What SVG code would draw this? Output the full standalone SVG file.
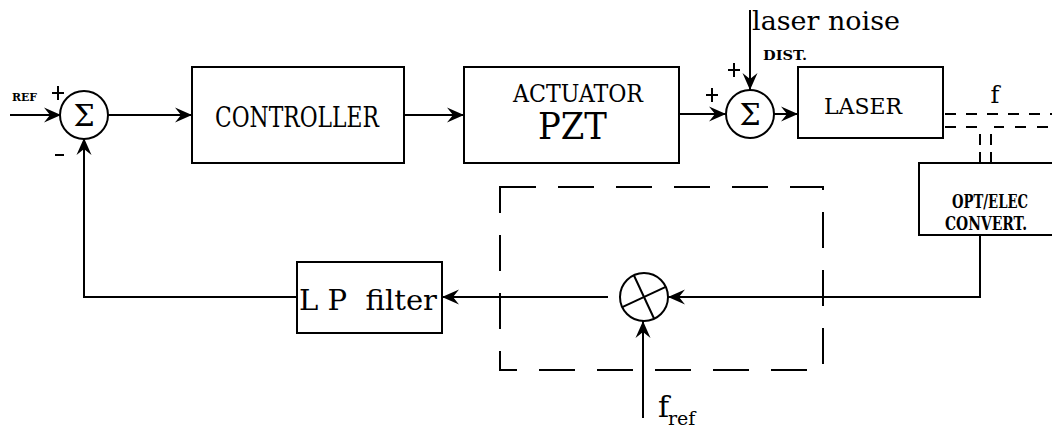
<svg xmlns="http://www.w3.org/2000/svg" width="1052" height="428" viewBox="0 0 1052 428">
<style>
.l{stroke:#000;stroke-width:2;fill:none}
.b{stroke:#000;stroke-width:2;fill:#fff}
.d{stroke:#000;stroke-width:2;fill:none;stroke-dasharray:36 22}
.t{font-family:'DejaVu Serif','Liberation Serif',serif;fill:#000}
.bt{font-family:'DejaVu Serif','Liberation Serif',serif;font-weight:bold;fill:#000}
.a{marker-end:url(#arr)}
</style>
<defs>
<marker id="arr" markerUnits="userSpaceOnUse" viewBox="-18 -8 20 16" refX="0" refY="0" markerWidth="20" markerHeight="16" orient="auto">
<path d="M0,0 L-17,-7.5 L-11,0 L-17,7.5 Z" fill="#000"/>
</marker>
</defs>
<rect width="1052" height="428" fill="#fff"/>

<g id="connectors">
<line class="l a" x1="10" y1="115" x2="61" y2="115"/>
<line class="l a" x1="108" y1="115" x2="192" y2="115"/>
<line class="l a" x1="404" y1="115" x2="464" y2="115"/>
<line class="l a" x1="679" y1="114" x2="726" y2="114"/>
<line class="l a" x1="750" y1="10" x2="750" y2="90"/>
<line class="l a" x1="774" y1="114" x2="798" y2="114"/>
<path class="l a" d="M980,235 V297 H668"/>
<line class="l a" x1="608" y1="297" x2="442" y2="297"/>
<path class="l a" d="M297,297 H84 V138"/>
<line class="l a" x1="643" y1="418" x2="643" y2="321"/>
<path class="l" stroke-dasharray="11 10" d="M945,114 H1052"/>
<path class="l" stroke-dasharray="11 10" d="M945,127 H956 M966,127 H980 V145 M980,152 V163 M991,163 V152 M991,145 V127 H1004 M1015,127 H1026 M1037,127 H1048"/>
</g>

<g id="sum1">
<circle class="b" cx="84" cy="115" r="24"/>
<text class="t" x="84" y="126" font-size="30" text-anchor="middle">Σ</text>
<text class="bt" x="12" y="101" font-size="11" textLength="25" lengthAdjust="spacingAndGlyphs">REF</text>
<path class="l" d="M52,93 H64 M58,86 V100 M55,155 H64"/>
</g>

<g id="controller">
<rect class="b" x="192" y="67" width="212" height="96"/>
<text class="t" x="215" y="127" font-size="27" textLength="164" lengthAdjust="spacingAndGlyphs">CONTROLLER</text>
</g>

<g id="actuator">
<rect class="b" x="464" y="67" width="215" height="96"/>
<text class="t" x="513" y="102" font-size="25" textLength="130" lengthAdjust="spacingAndGlyphs">ACTUATOR</text>
<text class="t" x="538" y="139" font-size="37" textLength="69" lengthAdjust="spacingAndGlyphs">PZT</text>
</g>

<g id="sum2">
<circle class="b" cx="750" cy="114" r="24"/>
<text class="t" x="750" y="125" font-size="30" text-anchor="middle">Σ</text>
<path class="l" d="M706,95 H718 M712,88 V102 M728,70 H740 M734,63 V77"/>
</g>

<g id="noise">
<text class="t" x="752" y="30" font-size="26" textLength="148" lengthAdjust="spacingAndGlyphs">laser noise</text>
<text class="bt" x="763" y="60" font-size="13" textLength="44" lengthAdjust="spacingAndGlyphs">DIST.</text>
</g>

<g id="laser">
<rect class="b" x="798" y="67" width="145" height="71"/>
<text class="t" x="824" y="114" font-size="23" textLength="78" lengthAdjust="spacingAndGlyphs">LASER</text>
<text class="t" x="995" y="103" font-size="24" text-anchor="middle">f</text>
</g>

<g id="optelec">
<rect class="b" x="919" y="163" width="150" height="72"/>
<text class="bt" x="952" y="208" font-size="18" textLength="76" lengthAdjust="spacingAndGlyphs">OPT/ELEC</text>
<text class="bt" x="945" y="230" font-size="18" textLength="82" lengthAdjust="spacingAndGlyphs">CONVERT.</text>
</g>

<g id="demod-box">
<rect class="d" x="500" y="187" width="323" height="183"/>
</g>

<g id="mixer">
<circle class="b" cx="644" cy="297" r="24"/>
<g transform="rotate(-25 644 297)">
<line class="l" x1="644" y1="273" x2="644" y2="321"/>
<line class="l" x1="620" y1="297" x2="668" y2="297"/>
</g>
</g>

<g id="lpfilter">
<rect class="b" x="297" y="262" width="145" height="71"/>
<text class="t" x="299" y="310" font-size="27" textLength="138" lengthAdjust="spacingAndGlyphs" style="white-space:pre">L P  filter</text>
</g>

<g id="fref">
<text class="t" x="658" y="417" font-size="30">f</text>
<text class="t" x="668" y="425" font-size="19">ref</text>
</g>
</svg>
